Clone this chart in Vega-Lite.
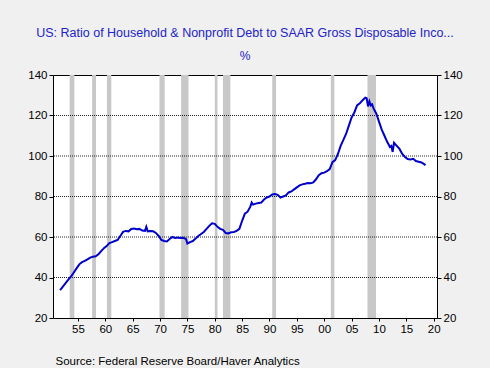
{
  "$schema": "https://vega.github.io/schema/vega-lite/v6.json",
  "width": 384,
  "height": 243,
  "autosize": "none",
  "padding": {"left": 53, "top": 75, "right": 53, "bottom": 50},
  "background": "#f0f0f0",
  "title": {
    "text": "US: Ratio of Household & Nonprofit Debt to SAAR Gross Disposable Inco...",
    "subtitle": "%",
    "anchor": "middle",
    "font": "Liberation Sans",
    "fontSize": 12.5,
    "fontWeight": "normal",
    "color": "#2323c8",
    "subtitleFont": "Liberation Sans",
    "subtitleFontSize": 12,
    "subtitleColor": "#2323c8",
    "subtitlePadding": 12,
    "offset": 7
  },
  "config": {
    "view": {"stroke": "#000000", "strokeWidth": 1, "fill": "#ffffff"},
    "axis": {
      "labelFont": "Liberation Sans",
      "labelFontSize": 11.5,
      "labelColor": "#000000",
      "tickColor": "#000000",
      "domain": false
    },
    "axisX": {
      "values": [1951,1952,1953,1954,1955,1956,1957,1958,1959,1960,1961,1962,1963,1964,1965,1966,1967,1968,1969,1970,1971,1972,1973,1974,1975,1976,1977,1978,1979,1980,1981,1982,1983,1984,1985,1986,1987,1988,1989,1990,1991,1992,1993,1994,1995,1996,1997,1998,1999,2000,2001,2002,2003,2004,2005,2006,2007,2008,2009,2010,2011,2012,2013,2014,2015,2016,2017,2018,2019,2020],
      "labelExpr": "datum.value % 5 === 0 ? slice('0' + (datum.value % 100), -2) : ''",
      "tickSize": 3,
      "labelPadding": 2,
      "labelOverlap": false,
      "labelFlush": false,
      "grid": false,
      "titleFont": "Liberation Sans",
      "titleFontSize": 11.5,
      "titleFontWeight": "normal",
      "titleColor": "#000000",
      "titleAnchor": "start",
      "titleAlign": "left",
      "titleBaseline": "alphabetic",
      "titleX": 2,
      "titleY": 46
    }
  },
  "datasets": {
    "rec": [
      {"year": 1953.5, "end": 1954.35},
      {"year": 1957.6, "end": 1958.3},
      {"year": 1960.3, "end": 1961.1},
      {"year": 1969.9, "end": 1970.85},
      {"year": 1973.85, "end": 1975.2},
      {"year": 1980.0, "end": 1980.5},
      {"year": 1981.5, "end": 1982.85},
      {"year": 1990.5, "end": 1991.2},
      {"year": 2001.2, "end": 2001.85},
      {"year": 2007.9, "end": 2009.45}
    ],
    "grid": [
      {"value": 40}, {"value": 60}, {"value": 80}, {"value": 100}, {"value": 120}
    ],
    "series": [
      {"year": 1951.75, "value": 33.8},
      {"year": 1952.25, "value": 35.5},
      {"year": 1952.75, "value": 37.2},
      {"year": 1953.25, "value": 39.0},
      {"year": 1953.75, "value": 40.5},
      {"year": 1954.25, "value": 42.5},
      {"year": 1954.75, "value": 44.5},
      {"year": 1955.25, "value": 46.5},
      {"year": 1955.75, "value": 47.6},
      {"year": 1956.25, "value": 48.2},
      {"year": 1956.75, "value": 49.0},
      {"year": 1957.25, "value": 49.8},
      {"year": 1957.75, "value": 50.3},
      {"year": 1958.25, "value": 50.5},
      {"year": 1958.75, "value": 51.5},
      {"year": 1959.25, "value": 53.0},
      {"year": 1959.75, "value": 54.5},
      {"year": 1960.25, "value": 55.5},
      {"year": 1960.75, "value": 57.0},
      {"year": 1961.25, "value": 57.5},
      {"year": 1961.75, "value": 58.0},
      {"year": 1962.25, "value": 58.5},
      {"year": 1962.75, "value": 60.5},
      {"year": 1963.25, "value": 62.5},
      {"year": 1963.75, "value": 63.0},
      {"year": 1964.25, "value": 62.8},
      {"year": 1964.75, "value": 64.0},
      {"year": 1965.25, "value": 64.2},
      {"year": 1965.75, "value": 63.8},
      {"year": 1966.25, "value": 64.0},
      {"year": 1966.75, "value": 63.2},
      {"year": 1967.25, "value": 63.0},
      {"year": 1967.5, "value": 65.0},
      {"year": 1967.75, "value": 62.8},
      {"year": 1968.25, "value": 63.0},
      {"year": 1968.75, "value": 62.8},
      {"year": 1969.25, "value": 62.0},
      {"year": 1969.75, "value": 60.5},
      {"year": 1970.25, "value": 58.5},
      {"year": 1970.75, "value": 58.0},
      {"year": 1971.25, "value": 57.8},
      {"year": 1971.75, "value": 59.0},
      {"year": 1972.25, "value": 60.0},
      {"year": 1972.75, "value": 59.5},
      {"year": 1973.25, "value": 59.8},
      {"year": 1973.75, "value": 59.5},
      {"year": 1974.25, "value": 59.6},
      {"year": 1974.75, "value": 59.0},
      {"year": 1975.0, "value": 56.8},
      {"year": 1975.5, "value": 57.5},
      {"year": 1976.0, "value": 58.0},
      {"year": 1976.5, "value": 59.2},
      {"year": 1977.0, "value": 60.5},
      {"year": 1977.5, "value": 61.5},
      {"year": 1978.0, "value": 62.5},
      {"year": 1978.5, "value": 64.0},
      {"year": 1979.0, "value": 65.5},
      {"year": 1979.5, "value": 66.8},
      {"year": 1980.0, "value": 66.5},
      {"year": 1980.5, "value": 65.0},
      {"year": 1981.0, "value": 64.0},
      {"year": 1981.5, "value": 63.5},
      {"year": 1982.0, "value": 62.0},
      {"year": 1982.5, "value": 61.8},
      {"year": 1983.0, "value": 62.3},
      {"year": 1983.5, "value": 62.5},
      {"year": 1984.0, "value": 63.0},
      {"year": 1984.5, "value": 64.0},
      {"year": 1985.0, "value": 68.0},
      {"year": 1985.5, "value": 71.5},
      {"year": 1986.0, "value": 72.5},
      {"year": 1986.5, "value": 75.0},
      {"year": 1986.75, "value": 77.0},
      {"year": 1987.0, "value": 76.0},
      {"year": 1987.5, "value": 76.5},
      {"year": 1988.0, "value": 76.8},
      {"year": 1988.5, "value": 77.0},
      {"year": 1989.0, "value": 78.5},
      {"year": 1989.5, "value": 79.5},
      {"year": 1990.0, "value": 80.0},
      {"year": 1990.5, "value": 81.0},
      {"year": 1991.0, "value": 81.2},
      {"year": 1991.5, "value": 80.8},
      {"year": 1992.0, "value": 79.5},
      {"year": 1992.5, "value": 80.0},
      {"year": 1993.0, "value": 80.5},
      {"year": 1993.5, "value": 82.0},
      {"year": 1994.0, "value": 82.5},
      {"year": 1994.5, "value": 83.5},
      {"year": 1995.0, "value": 84.5},
      {"year": 1995.5, "value": 85.5},
      {"year": 1996.0, "value": 86.0},
      {"year": 1996.5, "value": 86.3},
      {"year": 1997.0, "value": 86.7},
      {"year": 1997.5, "value": 86.5},
      {"year": 1998.0, "value": 87.0},
      {"year": 1998.5, "value": 88.5},
      {"year": 1999.0, "value": 90.5},
      {"year": 1999.5, "value": 91.5},
      {"year": 2000.0, "value": 91.8},
      {"year": 2000.5, "value": 92.5},
      {"year": 2001.0, "value": 93.5},
      {"year": 2001.5, "value": 97.0},
      {"year": 2002.0, "value": 98.0},
      {"year": 2002.5, "value": 101.0},
      {"year": 2003.0, "value": 105.0},
      {"year": 2003.5, "value": 108.0},
      {"year": 2004.0, "value": 111.0},
      {"year": 2004.5, "value": 115.0},
      {"year": 2005.0, "value": 119.0},
      {"year": 2005.5, "value": 121.5},
      {"year": 2006.0, "value": 125.0},
      {"year": 2006.5, "value": 126.0},
      {"year": 2007.0, "value": 127.5},
      {"year": 2007.5, "value": 128.8},
      {"year": 2007.75, "value": 128.5},
      {"year": 2008.0, "value": 124.5},
      {"year": 2008.25, "value": 127.0},
      {"year": 2008.5, "value": 125.0},
      {"year": 2008.75, "value": 125.5},
      {"year": 2009.0, "value": 123.5},
      {"year": 2009.5, "value": 121.0},
      {"year": 2010.0, "value": 117.0},
      {"year": 2010.5, "value": 113.0},
      {"year": 2011.0, "value": 110.0},
      {"year": 2011.5, "value": 107.0},
      {"year": 2012.0, "value": 104.5},
      {"year": 2012.25, "value": 105.0},
      {"year": 2012.5, "value": 102.0},
      {"year": 2012.75, "value": 106.5},
      {"year": 2013.25, "value": 105.0},
      {"year": 2013.75, "value": 103.5},
      {"year": 2014.25, "value": 101.0},
      {"year": 2014.75, "value": 99.5},
      {"year": 2015.25, "value": 98.5},
      {"year": 2015.75, "value": 98.3},
      {"year": 2016.25, "value": 98.6},
      {"year": 2016.75, "value": 97.5},
      {"year": 2017.25, "value": 97.2},
      {"year": 2017.75, "value": 96.8},
      {"year": 2018.25, "value": 96.0},
      {"year": 2018.5, "value": 95.5}
    ]
  },
  "layer": [
    {
      "data": {"name": "rec"},
      "mark": {"type": "rect", "color": "#c8c8c8"},
      "encoding": {
        "x": {
          "field": "year",
          "type": "quantitative",
          "scale": {"domain": [1950.45, 2020.6], "nice": false, "zero": false},
          "axis": {"title": "Source:  Federal Reserve Board/Haver Analytics"}
        },
        "x2": {"field": "end"}
      }
    },
    {
      "data": {"name": "grid"},
      "mark": {"type": "rule", "color": "#222222", "strokeWidth": 1, "strokeDash": [1, 1]},
      "encoding": {
        "y": {
          "field": "value",
          "type": "quantitative",
          "scale": {"domain": [20, 140], "nice": false, "zero": false},
          "axis": {
            "orient": "left",
            "values": [20, 40, 60, 80, 100, 120, 140],
            "tickSize": 4,
            "labelPadding": 2,
            "grid": false,
            "title": null
          }
        }
      }
    },
    {
      "data": {"name": "series"},
      "mark": {"type": "line", "color": "#0000cc", "strokeWidth": 2},
      "encoding": {
        "x": {
          "field": "year",
          "type": "quantitative",
          "axis": {"title": "Source:  Federal Reserve Board/Haver Analytics"}
        },
        "y": {
          "field": "value",
          "type": "quantitative",
          "axis": {
            "orient": "right",
            "values": [20, 40, 60, 80, 100, 120, 140],
            "tickSize": 4,
            "labelPadding": 2,
            "grid": false,
            "title": null
          }
        }
      }
    }
  ],
  "resolve": {"axis": {"y": "independent"}}
}
